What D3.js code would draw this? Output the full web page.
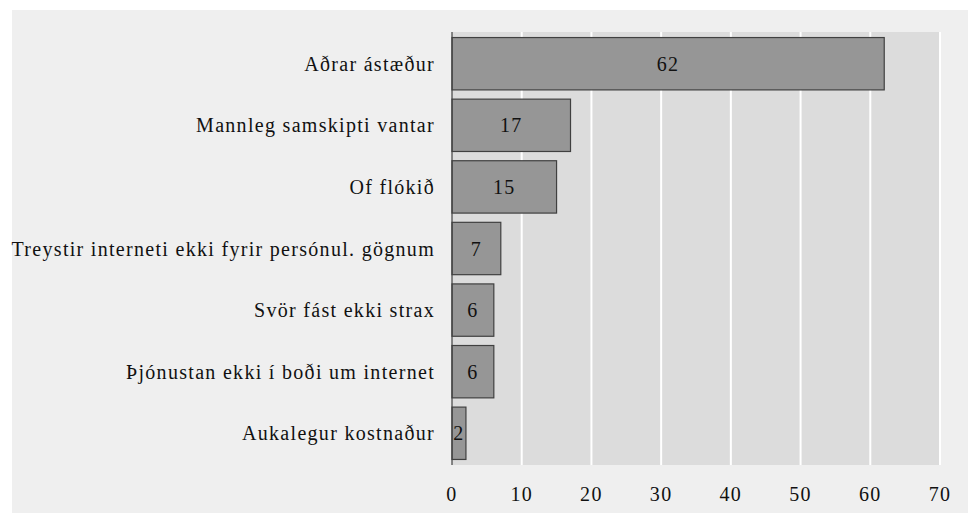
<html>
  <head>
    <meta charset="utf-8">
    <style>
      body { margin: 0; background: #ffffff; }
      text { font-family: "Liberation Serif", "Times New Roman", serif; fill: #111111; font-size: 20px; letter-spacing: 1.3px; }
    </style>
  </head>
  <body>
    <svg width="968" height="513"></svg>
    <script src="https://d3js.org/d3.v7.min.js"></script>
    <script>

var categories = [
  "Aðrar ástæður",
  "Mannleg samskipti vantar",
  "Of flókið",
  "Treystir interneti ekki fyrir persónul. gögnum",
  "Svör fást ekki strax",
  "Þjónustan ekki í boði um internet",
  "Aukalegur kostnaður"
];
var values = [62, 17, 15, 7, 6, 6, 2];
var xTicks = [0, 10, 20, 30, 40, 50, 60, 70];

var svg = d3.select("svg"),
    width = +svg.attr("width"),
    height = +svg.attr("height");

var margin = {top: 32, right: 28, bottom: 48, left: 452};

// outer panel
svg.append("rect")
  .attr("x", 12).attr("y", 10)
  .attr("width", width - 12).attr("height", height - 10)
  .attr("fill", "#efefef");

var x = d3.scaleLinear()
  .domain([0, 70])
  .range([margin.left, width - margin.right]);

var y = d3.scaleBand()
  .domain(categories)
  .range([margin.top, height - margin.bottom])
  .paddingInner(0.15)
  .paddingOuter(0.09);

// plot background
svg.append("rect")
  .attr("x", x(0)).attr("y", margin.top)
  .attr("width", x(70) - x(0)).attr("height", height - margin.bottom - margin.top)
  .attr("fill", "#dcdcdc");

// gridlines
svg.append("g")
  .selectAll("line")
  .data(xTicks.slice(1))
  .enter().append("line")
    .attr("x1", function(d) { return x(d); })
    .attr("x2", function(d) { return x(d); })
    .attr("y1", margin.top)
    .attr("y2", height - margin.bottom)
    .attr("stroke", "#ffffff")
    .attr("stroke-width", 2);

// bars
svg.append("g")
  .selectAll("rect")
  .data(values)
  .enter().append("rect")
    .attr("x", x(0))
    .attr("y", function(d, i) { return y(categories[i]); })
    .attr("width", function(d) { return x(d) - x(0); })
    .attr("height", y.bandwidth())
    .attr("fill", "#969696")
    .attr("stroke", "#404040")
    .attr("stroke-width", 1.2);

// value labels
svg.append("g")
  .selectAll("text")
  .data(values)
  .enter().append("text")
    .attr("x", function(d) { return (x(d) + x(0)) / 2; })
    .attr("y", function(d, i) { return y(categories[i]) + y.bandwidth() / 2; })
    .attr("dy", "0.35em")
    .attr("text-anchor", "middle")
    .text(function(d) { return d; });

// y axis line
svg.append("line")
  .attr("x1", x(0)).attr("x2", x(0))
  .attr("y1", margin.top).attr("y2", height - margin.bottom)
  .attr("stroke", "#404040")
  .attr("stroke-width", 1.2);

// category labels
svg.append("g")
  .selectAll("text")
  .data(categories)
  .enter().append("text")
    .attr("x", x(0) - 17)
    .attr("y", function(d) { return y(d) + y.bandwidth() / 2; })
    .attr("dy", "0.35em")
    .attr("text-anchor", "end")
    .text(function(d) { return d; });

// x tick labels
svg.append("g")
  .selectAll("text")
  .data(xTicks)
  .enter().append("text")
    .attr("x", function(d) { return x(d); })
    .attr("y", height - 12)
    .attr("text-anchor", "middle")
    .text(function(d) { return d; });

    </script>
  </body>
</html>
